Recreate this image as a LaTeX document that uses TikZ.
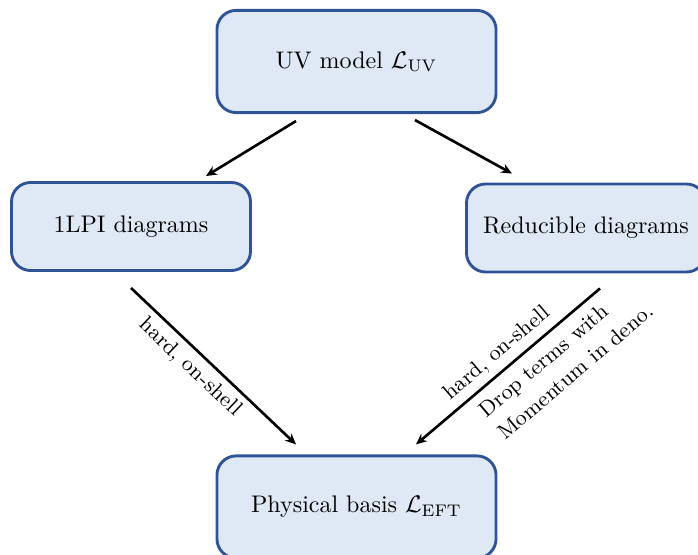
\documentclass[tikz,border=0pt]{standalone}
\usetikzlibrary{arrows.meta,calc}
\definecolor{boxfill}{RGB}{222,233,245}
\definecolor{boxdraw}{RGB}{47,84,150}
\begin{document}
\begin{tikzpicture}[x=0.4167pt,y=-0.4167pt,
  box/.style={draw=boxdraw, fill=boxfill, line width=1.2pt, rounded corners=8pt, align=center, inner sep=0pt},
  big/.style={box, minimum width=116.3pt, minimum height=42.6pt},
  small/.style={box, minimum width=99.6pt, minimum height=36.7pt},
  arr/.style={-{Stealth[length=4.5pt,width=4pt]}, line width=1.1pt},
  lbl/.style={sloped, inner sep=2.5pt, font=\small}]
\useasboundingbox (0,0) rectangle (698,554);
\node[big] (uv) at (356.5,61.5) {UV model $\mathcal{L}_{\mathrm{UV}}$};
\node[small] (lpi) at (131,226.5) {1LPI diagrams};
\node[small] (red) at (586,228) {Reducible diagrams};
\node[big] (eft) at (356.5,507) {Physical basis $\mathcal{L}_{\mathrm{EFT}}$};
\draw[arr] ($(uv.south)+(-60.5,7)$) -- ($(lpi.north)+(75,-5)$);
\draw[arr] ($(uv.south)+(58.5,6)$) -- ($(red.north)+(-74,-9)$);
\draw[arr] ($(lpi.south)+(0,16)$) -- node[lbl, below, pos=0.43] {hard, on-shell} ($(eft.north)+(-60.5,-10)$);
\draw[arr] ($(red.south)+(14,15)$) --
  node[lbl, above, pos=0.50] {hard, on-shell}
  node[lbl, below=1.5pt, pos=0.30, align=left] {Drop terms with\\[1pt]Momentum in deno.}
  ($(eft.north)+(59.5,-10)$);
\end{tikzpicture}
\end{document}
